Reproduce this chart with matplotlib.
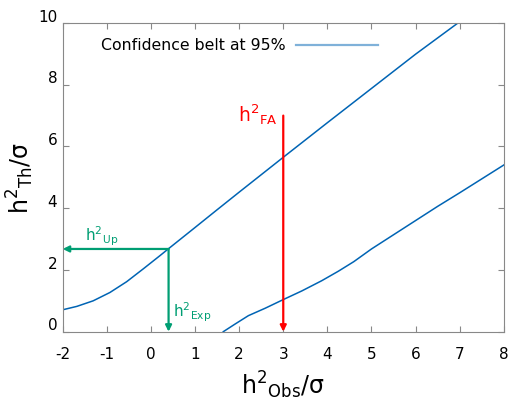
import matplotlib
matplotlib.use('Agg')
import matplotlib.pyplot as plt
from matplotlib.transforms import ScaledTranslation

plt.rcParams['font.family'] = 'DejaVu Sans'
plt.rcParams['mathtext.fontset'] = 'dejavusans'
plt.rcParams['mathtext.default'] = 'regular'
plt.rcParams['axes.unicode_minus'] = False

# belt edges
upper_x = [-2, -1.68, -1.31, -0.93, -0.55, -0.17, 0.21, 0.4, 0.96, 1.5, 2, 3, 4, 5, 6, 6.96]
upper_y = [0.71, 0.82, 1.0, 1.27, 1.62, 2.04, 2.47, 2.69, 3.33, 3.95, 4.52, 5.65, 6.77, 7.88, 8.99, 10]
lower_x = [1.64, 1.91, 2.21, 2.59, 3.0, 3.42, 3.87, 4.25, 4.6, 5, 5.5, 6, 6.5, 7, 7.5, 8]
lower_y = [0, 0.25, 0.52, 0.76, 1.04, 1.32, 1.65, 1.96, 2.27, 2.68, 3.14, 3.6, 4.06, 4.5, 4.95, 5.40]

h_fa_x, h_fa_top = 3.0, 7.0
h_exp, h_up = 0.4, 2.68

blue = '#0064b4'
green = '#009e73'
red = '#ff0000'

fig = plt.figure(figsize=(5.12, 4.02), dpi=100)
ax = fig.add_axes([0.1225, 0.1724, 0.8615, 0.7679])

ax.plot(upper_x, upper_y, color=blue, lw=1.1)
ax.plot(lower_x, lower_y, color=blue, lw=1.1)

# legend entry, gnuplot style
ax.text(-1.13, 9.3, 'Confidence belt at 95%', fontsize=11.3, va='center', ha='left')
ax.plot([3.29, 5.15], [9.3, 9.3], color=blue, lw=1.6, alpha=0.5)

arrow = dict(arrowstyle='-|>', lw=1.6, mutation_scale=9, shrinkA=0, shrinkB=0)
ax.annotate('', xy=(h_fa_x, 0), xytext=(h_fa_x, h_fa_top),
            arrowprops=dict(color=red, **arrow))
ax.annotate('', xy=(-2, h_up), xytext=(h_exp, h_up),
            arrowprops=dict(color=green, **arrow))
ax.annotate('', xy=(h_exp, 0), xytext=(h_exp, h_up),
            arrowprops=dict(color=green, **arrow))

ax.text(2.88, 7.05, r'$h^{2}{}_{FA}$', color=red, fontsize=13.5, ha='right', va='center')
ax.text(-1.5, 3.12, r'$h^{2}{}_{Up}$', color=green, fontsize=11, ha='left', va='center')
ax.text(0.5, 0.66, r'$h^{2}{}_{Exp}$', color=green, fontsize=11, ha='left', va='center')

ax.set_xlim(-2, 8)
ax.set_ylim(0, 10)
ax.set_xticks(range(-2, 9))
ax.set_yticks(range(0, 11, 2))

for s in ax.spines.values():
    s.set_color('#888888')
ax.tick_params(direction='in', length=4, color='#888888', top=True, right=True,
               labelsize=11)
ax.tick_params(axis='x', pad=10)
ax.tick_params(axis='y', pad=4)
for lab in ax.get_yticklabels():
    lab.set_transform(lab.get_transform() + ScaledTranslation(0, 6 / 72, fig.dpi_scale_trans))

ax.set_xlabel(r'$h^{2}{}_{Obs}/\sigma$', fontsize=17, labelpad=6)
ax.set_ylabel(r'$h^{2}{}_{Th}/\sigma$', fontsize=17)
ax.yaxis.set_label_coords(-0.06, 0.5)

plt.savefig('out.png', dpi=100)
